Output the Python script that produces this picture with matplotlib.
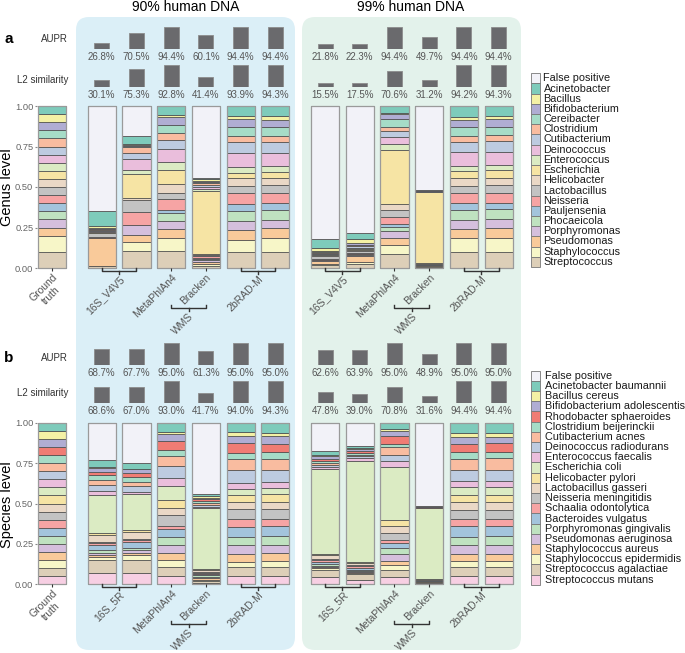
import numpy as np
import matplotlib.pyplot as plt
from matplotlib.patches import FancyBboxPatch, Rectangle
from matplotlib import transforms

plt.rcParams['font.family'] = ['Liberation Sans', 'DejaVu Sans']

# ---- legend / taxa ----
genus_names = ['Acinetobacter', 'Bacillus', 'Bifidobacterium', 'Cereibacter', 'Clostridium',
               'Cutibacterium', 'Deinococcus', 'Enterococcus', 'Escherichia', 'Helicobacter',
               'Lactobacillus', 'Neisseria', 'Pauljensenia', 'Phocaeicola', 'Porphyromonas',
               'Pseudomonas', 'Staphylococcus', 'Streptococcus']
genus_colors = ['#7ECBBB', '#F4F1A5', '#B0ADD3', '#A6DCC7', '#F9BCA0', '#BDCBE0', '#EABEDC',
                '#DBEBC3', '#F6E4A4', '#EAD8C6', '#C3C3C3', '#F6A4A4', '#A3C4DC', '#BFE2C0',
                '#D5BFDD', '#F9CA9A', '#F7F6C8', '#DDCFB8']

species_names = ['Acinetobacter baumannii', 'Bacillus cereus', 'Bifidobacterium adolescentis',
                 'Rhodobacter sphaeroides', 'Clostridium beijerinckii', 'Cutibacterium acnes',
                 'Deinococcus radiodurans', 'Enterococcus faecalis', 'Escherichia coli',
                 'Helicobacter pylori', 'Lactobacillus gasseri', 'Neisseria meningitidis',
                 'Schaalia odontolytica', 'Bacteroides vulgatus', 'Porphyromonas gingivalis',
                 'Pseudomonas aeruginosa', 'Staphylococcus aureus', 'Staphylococcus epidermidis',
                 'Streptococcus agalactiae', 'Streptococcus mutans']
species_colors = ['#7ECBBB', '#F4F1A5', '#B0ADD3', '#F07C74', '#A6DCC7', '#F9BCA0', '#BDCBE0',
                  '#EABEDC', '#DBEBC3', '#F6E4A4', '#EAD8C6', '#C3C3C3', '#F6A4A4', '#A3C4DC',
                  '#BFE2C0', '#D5BFDD', '#F9CA9A', '#F7F6C8', '#DDCFB8', '#F7CFE3']
fp_color = '#F2F2F8'

# ---- genus level abundances (legend order, false positive = remainder) ----
g_truth = [.05] * 16 + [.10, .10]
g_16s_90_a = [.097, .010, .004, .004, .006, .004, .004, 0, .006, .006, .022, .003, 0, 0, .005, .168, .003, .012]
g_16s_90_b = [.045, .008, .008, .006, .034, .037, .070, .025, .146, .014, .073, .078, 0, 0, .062, .045, .058, .103]
g_mpa_90 = [.056, .014, .047, .052, .041, .058, .076, .048, .090, .052, .041, .064, .019, .051, .048, .055, .085, .103]
g_brk_90 = [.010, .008, .010, .008, .010, .010, .014, .012, .387, .008, .010, .008, .008, .008, .010, .012, .012, .013]
g_2b_90_a = [.062, .020, .050, .054, .039, .068, .082, .041, .031, .046, .047, .062, .045, .062, .054, .062, .076, .099]
g_2b_90_b = [.062, .025, .045, .054, .039, .068, .076, .041, .033, .045, .047, .062, .045, .062, .052, .056, .089, .099]
g_16s_99_a = [.056, .020, .004, .004, .006, .004, .004, .002, .004, .004, .018, .004, .002, .002, .004, .022, .006, .016]
g_16s_99_b = [.031, .025, .012, .006, .004, .010, .004, .004, .008, .006, .010, .004, .004, .004, .006, .040, .010, .025]
g_mpa_99 = [.041, .011, .030, .046, .027, .039, .043, .035, .334, .033, .046, .045, .016, .027, .041, .046, .051, .089]
g_brk_99 = [.002] * 8 + [.440] + [.002] * 6 + [.004, .004, .008]
g_2b_99_a = [.066, .021, .045, .054, .035, .066, .082, .033, .045, .047, .045, .062, .041, .062, .056, .054, .087, .099]
g_2b_99_b = [.062, .021, .045, .054, .035, .066, .080, .035, .045, .047, .045, .062, .041, .062, .056, .058, .087, .099]

# ---- species level abundances ----
s_truth = [.05] * 20
s_16s_90_a = [.043, .004, .025, .020, .033, .028, .037, .025, .237, .014, .041, .006, .016, .031, .016, .012, .012, .021, .082, .066]
s_16s_90_b = [.037, .003, .025, .027, .031, .021, .039, .012, .225, .010, .043, .005, .014, .037, .014, .016, .014, .033, .082, .066]
s_mpa_90 = [.056, .012, .045, .056, .037, .062, .072, .052, .088, .050, .041, .068, .017, .051, .050, .053, .042, .041, .055, .052]
s_brk_90 = [.011] * 8 + [.377] + [.008, .008, .008, .008, .008, .009, .008, .009, .009, .009, .009]
s_2b_90_a = [.056, .026, .044, .060, .037, .070, .078, .041, .035, .044, .045, .062, .047, .060, .054, .055, .048, .035, .051, .052]
s_2b_90_b = [.062, .021, .045, .054, .041, .066, .078, .039, .037, .045, .047, .062, .041, .066, .052, .054, .045, .041, .052, .052]
s_16s_99_a = [.025, .006, .016, .016, .012, .010, .012, .016, .523, .006, .025, .010, .010, .016, .008, .010, .006, .008, .049, .041]
s_16s_99_b = [.014, .004, .010, .016, .010, .008, .012, .016, .632, .006, .012, .006, .008, .012, .008, .008, .006, .006, .035, .027]
s_mpa_99 = [.037, .015, .030, .046, .023, .045, .041, .035, .330, .037, .046, .041, .020, .031, .037, .046, .020, .033, .042, .045]
s_brk_99 = [.002] * 8 + [.439] + [.002] * 8 + [.003, .004, .008]
s_2b_99_a = [.062, .025, .041, .054, .039, .068, .072, .037, .049, .043, .052, .056, .041, .066, .052, .058, .041, .037, .056, .051]
s_2b_99_b = [.060, .025, .041, .056, .037, .070, .072, .035, .049, .045, .050, .056, .043, .064, .054, .056, .043, .037, .056, .051]

# ---- metrics (%) ----
g_aupr = [26.8, 70.5, 94.4, 60.1, 94.4, 94.4, 21.8, 22.3, 94.4, 49.7, 94.4, 94.4]
g_l2 = [30.1, 75.3, 92.8, 41.4, 93.9, 94.3, 15.5, 17.5, 70.6, 31.2, 94.2, 94.3]
s_aupr = [68.7, 67.7, 95.0, 61.3, 95.0, 95.0, 62.6, 63.9, 95.0, 48.9, 95.0, 95.0]
s_l2 = [68.6, 67.0, 93.0, 41.7, 94.0, 94.3, 47.8, 39.0, 70.8, 31.6, 94.4, 94.4]

genus_samples = [g_truth, g_16s_90_a, g_16s_90_b, g_mpa_90, g_brk_90, g_2b_90_a, g_2b_90_b,
                 g_16s_99_a, g_16s_99_b, g_mpa_99, g_brk_99, g_2b_99_a, g_2b_99_b]
species_samples = [s_truth, s_16s_90_a, s_16s_90_b, s_mpa_90, s_brk_90, s_2b_90_a, s_2b_90_b,
                   s_16s_99_a, s_16s_99_b, s_mpa_99, s_brk_99, s_2b_99_a, s_2b_99_b]

# ---- layout (pixels) ----
W, H = 685, 653
fig = plt.figure(figsize=(W / 100, H / 100), dpi=100)

PPU = 34.7          # pixels per bar slot
X0 = 52             # ground-truth bar centre
AX_L, AX_R = 37, 520
GAP = 0.435
xpos = np.array([0] + [1 + GAP + i for i in range(6)] + [2 + 2 * GAP + 5 + i for i in range(6)])
BAR_W = 0.81
XLIM = ((AX_L - X0) / PPU, (AX_R - X0) / PPU)
EDGE = '#4F4F4F'


def px_axes(ytop, ybot):
    return fig.add_axes([AX_L / W, 1 - ybot / H, (AX_R - AX_L) / W, (ybot - ytop) / H])


canvas = fig.add_axes([0, 0, 1, 1])
canvas.set_xlim(0, W)
canvas.set_ylim(H, 0)
canvas.axis('off')
canvas.set_zorder(-5)

canvas.add_patch(FancyBboxPatch((76, 17), 219, 633, boxstyle='round,pad=0,rounding_size=13',
                                fc='#DBEFF7', ec='none'))
canvas.add_patch(FancyBboxPatch((302, 17), 219, 633, boxstyle='round,pad=0,rounding_size=13',
                                fc='#E3F2EB', ec='none'))
canvas.text(186, 7, '90% human DNA', ha='center', va='center', fontsize=10)
canvas.text(411, 7, '99% human DNA', ha='center', va='center', fontsize=10)


def metric_row(base, values):
    ax = px_axes(base - 23.3, base)
    ax.set_xlim(*XLIM)
    ax.set_ylim(0, 100)
    ax.axis('off')
    ax.bar(xpos[1:], values, width=0.43, color='#6A6A6D', edgecolor='#8C8C8C', lw=0.6)
    off = transforms.offset_copy(ax.transData, fig=fig, x=0, y=-3, units='dots')
    for x, v in zip(xpos[1:], values):
        ax.text(x, 0, f'{v:.1f}%', transform=off, ha='center', va='top', fontsize=7, color='#555555')


def stack_panel(ytop, ybot, samples, colors, first_label):
    ax = px_axes(ytop, ybot)
    ax.patch.set_alpha(0)
    axh = ybot - ytop
    for x, vals in zip(xpos, samples):
        bottom = 0.0
        for v, c in zip(vals[::-1], colors[::-1]):
            if v > 0:
                ax.bar(x, v, bottom=bottom, width=BAR_W, color=c, edgecolor=EDGE, lw=0.55, clip_on=False)
            bottom += v
        if 1 - bottom > 0.002:
            ax.bar(x, 1 - bottom, bottom=bottom, width=BAR_W, color=fp_color, edgecolor=EDGE, lw=0.55,
                   clip_on=False)
        ax.add_patch(Rectangle((x - BAR_W / 2, 0), BAR_W, 1, fill=False, ec='#9A9A9A', lw=0.9, clip_on=False))
    ax.set_xlim(*XLIM)
    ax.set_ylim(0, 1)
    for s in ax.spines.values():
        s.set_visible(False)
    ax.set_yticks([0, .25, .5, .75, 1])
    ax.set_yticklabels(['0.00', '0.25', '0.50', '0.75', '1.00'])
    ax.tick_params(axis='y', length=1.5, pad=1.2, labelsize=6.7, colors='#888888', labelcolor='#666666')
    ax.set_xticks(xpos)
    ax.set_xticklabels([])
    ax.tick_params(axis='x', length=2.5, width=0.8, colors='#333333')

    tr = transforms.blended_transform_factory(ax.transData, ax.transAxes)

    def yd(px):
        return -px / axh

    def bracket(x1, x2, line, up, down):
        xm = (x1 + x2) / 2
        ax.plot([x1, x1, x2, x2], [yd(line - up), yd(line), yd(line), yd(line - up)], color='#333333',
                lw=1, transform=tr, clip_on=False)
        ax.plot([xm, xm], [yd(line), yd(line + down)], color='#333333', lw=1, transform=tr, clip_on=False)

    def label(x, px, txt):
        ax.text(x, yd(px), txt, transform=tr, rotation=45, ha='right', va='top', rotation_mode='anchor',
                fontsize=7.5, color='#555555', multialignment='center')

    label(xpos[0], 4, 'Ground\ntruth')
    for base in (1, 7):
        bracket(xpos[base], xpos[base + 1], 3, 3, 3)
        bracket(xpos[base + 4], xpos[base + 5], 3, 3, 3)
        bracket(xpos[base + 2], xpos[base + 3], 40, 3, 3)
        label((xpos[base] + xpos[base + 1]) / 2, 6, first_label)
        label(xpos[base + 2], 4, 'MetaPhlAn4')
        label(xpos[base + 3], 4, 'Bracken')
        label((xpos[base + 4] + xpos[base + 5]) / 2, 6, '2bRAD-M')
        label((xpos[base + 2] + xpos[base + 3]) / 2, 43, 'WMS')
    return ax


def legend(x_text, y0, names, colors):
    entries = [('False positive', fp_color)] + list(zip(names, colors))
    for i, (n, c) in enumerate(entries):
        y = y0 + i * 10.2
        canvas.add_patch(Rectangle((531, y - 5.1), 9.5, 10.2, fc=c, ec='#777777', lw=0.6))
        canvas.text(x_text, y, n, ha='left', va='center', fontsize=7.8, color='#1A1A1A')


# panel a
canvas.text(9, 39, 'a', ha='center', va='center', fontsize=11, fontweight='bold')
canvas.text(68, 39, 'AUPR', ha='right', va='center', fontsize=7, color='#333333')
canvas.text(68, 80, 'L2 similarity', ha='right', va='center', fontsize=7, color='#333333')
canvas.text(7.5, 187, 'Genus level', ha='center', va='center', rotation=90, fontsize=10.5)
metric_row(49, g_aupr)
metric_row(87, g_l2)
stack_panel(106, 268, genus_samples, genus_colors, '16S_V4V5')
legend(543.5, 78.3, genus_names, genus_colors)

# panel b
canvas.text(9, 358, 'b', ha='center', va='center', fontsize=11, fontweight='bold')
canvas.text(68, 358, 'AUPR', ha='right', va='center', fontsize=7, color='#333333')
canvas.text(68, 393, 'L2 similarity', ha='right', va='center', fontsize=7, color='#333333')
canvas.text(7.5, 505, 'Species level', ha='center', va='center', rotation=90, fontsize=10.5)
metric_row(365, s_aupr)
metric_row(403, s_l2)
stack_panel(423, 584, species_samples, species_colors, '16S_5R')
legend(545.5, 375.7, species_names, species_colors)

fig.savefig('out.png', dpi=100)
